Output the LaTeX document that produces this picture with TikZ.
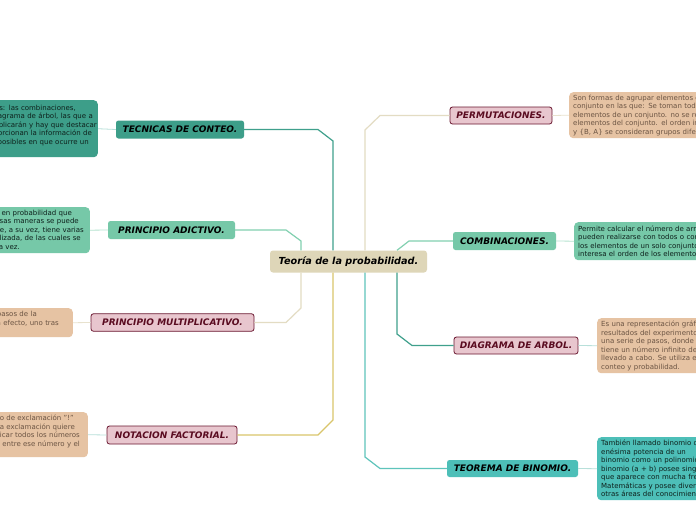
\documentclass[tikz,border=0pt]{standalone}
\usepackage{fontspec}
\setmainfont{DejaVu Sans}
\definecolor{dteal}{HTML}{3D9E89}
\definecolor{lgreen}{HTML}{76C8A8}
\definecolor{pinkf}{HTML}{E8C6CE}
\definecolor{maroon}{HTML}{6A1730}
\definecolor{maroontext}{HTML}{5A0B20}
\definecolor{tanf}{HTML}{E6C3A3}
\definecolor{tantext}{HTML}{6B5443}
\definecolor{tealf}{HTML}{4DBFB8}
\definecolor{beigef}{HTML}{DED6B8}
\definecolor{lbeige}{HTML}{E3DCC3}
\definecolor{yel}{HTML}{D9C56B}
\definecolor{tealline}{HTML}{5EC4BB}
\definecolor{dtealline}{HTML}{3FA08C}
\definecolor{lgline}{HTML}{82D0B0}
\definecolor{darktext}{HTML}{0E211C}
\definecolor{faintteal}{HTML}{B8E0DA}
\definecolor{faintgreen}{HTML}{B5E3CF}
\definecolor{faintbeige}{HTML}{E8E2CE}
\tikzset{
  topic/.style={rounded corners=2.5pt, inner sep=0pt,
    font=\fontsize{9}{10}\selectfont\bfseries\itshape},
  pinktopic/.style={topic, fill=pinkf, draw=maroon, line width=0.8pt, text=maroontext},
  dtealtopic/.style={topic, fill=dteal, text=black},
  greentopic/.style={topic, fill=lgreen, text=black},
  tealtopic/.style={topic, fill=tealf, text=black},
  note/.style={rounded corners=4pt, inner ysep=0pt, text width=300pt,
    font=\fontsize{7}{8.5}\selectfont},
  leftnote/.style={note, inner xsep=1pt, align=right, anchor=north east},
  rightnote/.style={note, inner xsep=4pt, align=left, anchor=north west},
  conn/.style={line width=1.2pt},
  subconn/.style={line width=0.8pt}
}
\begin{document}
\begin{tikzpicture}[x=1pt,y=-1pt]
\useasboundingbox (0,0) rectangle (696,520);
\fill[white] (0,0) rectangle (696,520);

% central node
\node[topic, fill=beigef, rounded corners=3pt, minimum width=157pt, minimum height=22pt,
  font=\fontsize{9.7}{11}\selectfont\bfseries\itshape] (c) at (348.5,261.5) {Teoría de la probabilidad.};

% topics
\node[dtealtopic, minimum width=128pt, minimum height=18pt] (tc) at (180,129.5) {TECNICAS DE CONTEO.};
\node[greentopic, minimum width=127pt, minimum height=18pt] (pa) at (171.5,230) {PRINCIPIO ADICTIVO.};
\node[pinktopic, minimum width=163pt, minimum height=17.5pt] (pm) at (172.5,322.5) {PRINCIPIO MULTIPLICATIVO.};
\node[pinktopic, minimum width=130pt, minimum height=18pt] (nf) at (172,435) {NOTACION FACTORIAL.};
\node[pinktopic, minimum width=102pt, minimum height=17pt] (pe) at (501,115.5) {PERMUTACIONES.};
\node[greentopic, minimum width=103pt, minimum height=18pt] (co) at (504.5,241) {COMBINACIONES.};
\node[pinktopic, minimum width=124pt, minimum height=17pt] (da) at (516,345.5) {DIAGRAMA DE ARBOL.};
\node[tealtopic, minimum width=131pt, minimum height=17pt] (tb) at (512.5,468.5) {TEOREMA DE BINOMIO.};

% notes, left
\node[leftnote, fill=dteal, text=darktext, minimum height=57pt] (n1) at (98,100)
 {Entre las técnicas de conteo tenemos: las combinaciones,\kern21pt\\
  permutaciones y diagrama de árbol, las que a\kern4pt\\
  continuación se explicarán y hay que destacar\\
  que éstas nos proporcionan la información de\kern5pt\\
  todas las maneras posibles en que ocurre un\kern8pt\\ \mbox{}};
\node[leftnote, fill=lgreen, text=darktext, minimum height=46pt] (n2) at (90,207)
 {Es un principio en probabilidad que\kern17pt\\
  de diversas maneras se puede\kern10pt\\
  realizarse, a su vez, tiene varias\kern5pt\\
  formas de ser realizada, de las cuales se\kern8pt\\
  puede realizar solo una a la vez.\kern69pt};
\node[leftnote, fill=tanf, text=tantext, minimum height=29pt] (n3) at (73,308)
 {Es cuando los pasos de la\kern35pt\\
  actividad se llevan a efecto, uno tras\kern13pt\\ \mbox{}};
\node[leftnote, fill=tanf, text=tantext, minimum height=45pt] (n4) at (88,412)
 {Se representa con el signo de exclamación "!"\kern13pt\\
  y esta exclamación quiere\kern12pt\\
  decir que hay que multiplicar todos los números\kern7pt\\
  enteros que puede haber entre ese número y el\kern7pt\\ \mbox{}};

% notes, right
\node[rightnote, fill=tanf, text=tantext, minimum height=46pt] (r1) at (569,92)
 {Son formas de agrupar elementos de un\\
  conjunto en las que: Se toman todos los\\
  elementos de un conjunto. no se repiten los\\
  elementos del conjunto. el orden influye: \{A, B\}\\
  y \{B, A\} se consideran grupos diferentes.};
\node[rightnote, fill=lgreen, text=darktext, minimum height=38pt] (r2) at (574,222)
 {Permite calcular el número de arreglos que\\
  pueden realizarse con todos o con parte de\\
  los elementos de un solo conjunto, donde no\\
  interesa el orden de los elementos.};
\node[rightnote, fill=tanf, text=tantext, minimum height=55pt] (r3) at (597,318)
 {Es una representación gráfica de los posibles\\
  resultados del experimento, el cual consta de\\
  una serie de pasos, donde cada uno de los pasos\\
  tiene un número infinito de maneras de ser\\
  llevado a cabo. Se utiliza en los problemas de\\
  conteo y probabilidad.};
\node[rightnote, fill=tealf, text=darktext, minimum height=63pt] (r4) at (597,437)
 {También llamado binomio de Newton, expresa la\\
  enésima potencia de un\\
  binomio como un polinomio. El desarrollo del\\
  binomio (a + b) posee singular importancia ya\\
  que aparece con mucha frecuencia en\\
  Matemáticas y posee diversas aplicaciones en\\
  otras áreas del conocimiento.};

% main connectors
\coordinate (a1) at (333,141); \coordinate (a2) at (318,129.5);
\draw[conn, draw=dtealline] (c.north -| a1) -- (a1) -- (a2) -- (tc.east);
\coordinate (b1) at (301,241); \coordinate (b2) at (286,230);
\draw[conn, draw=lgline] (c.north -| b1) -- (b1) -- (b2) -- (pa.east);
\coordinate (d1) at (301,308); \coordinate (d2) at (286,322.5);
\draw[conn, draw=lbeige] (c.south -| d1) -- (d1) -- (d2) -- (pm.east);
\coordinate (e1) at (333,420); \coordinate (e2) at (318,435);
\draw[conn, draw=yel] (c.south -| e1) -- (e1) -- (e2) -- (nf.east);
\coordinate (f1) at (365,130); \coordinate (f2) at (380,115.5);
\draw[conn, draw=lbeige] (c.north -| f1) -- (f1) -- (f2) -- (pe.west);
\coordinate (g1) at (397,250.5); \coordinate (g2) at (409,241);
\draw[conn, draw=lgline] (c.north -| g1) -- (g2) -- (co.west);
\coordinate (h1) at (397,334); \coordinate (h2) at (412,345.5);
\draw[conn, draw=dtealline] (c.south -| h1) -- (h1) -- (h2) -- (da.west);
\coordinate (i1) at (365,457); \coordinate (i2) at (380,468.5);
\draw[conn, draw=tealline] (c.south -| i1) -- (i1) -- (i2) -- (tb.west);

% note connectors
\draw[subconn, draw=faintteal] (tc.west) -- (n1.east);
\draw[subconn, draw=faintgreen] (pa.west) -- (n2.east);
\draw[subconn, draw=faintbeige] (pm.west) -- (n3.east);
\draw[subconn, draw=faintteal] (nf.west) -- (n4.east);
\draw[subconn, draw=faintbeige] (pe.east) -- (r1.west);
\draw[subconn, draw=faintgreen] (co.east) -- (r2.west);
\draw[subconn, draw=faintteal] (da.east) -- (r3.west);
\draw[subconn, draw=faintteal] (tb.east) -- (r4.west);
\end{tikzpicture}
\end{document}
